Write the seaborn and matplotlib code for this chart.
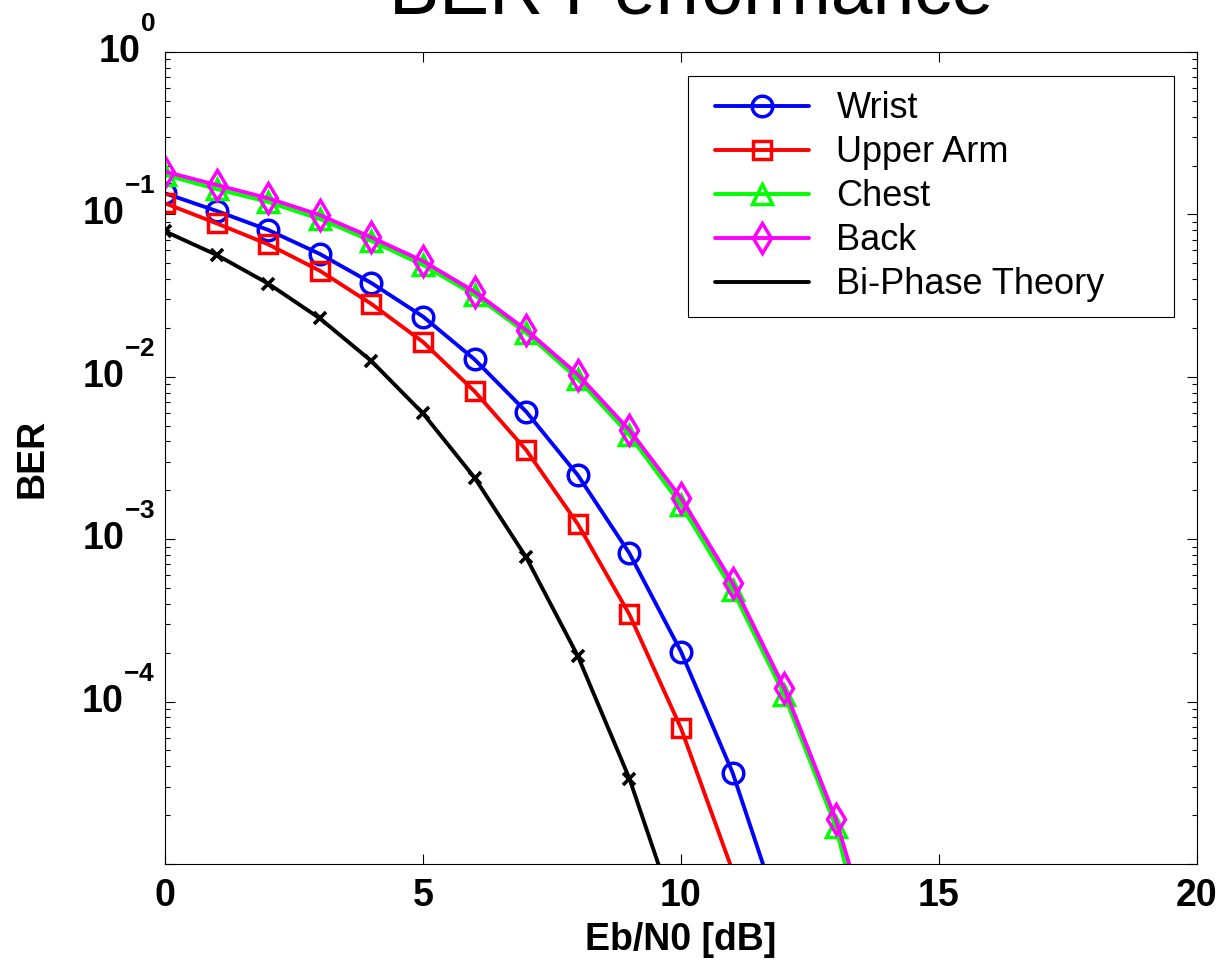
import numpy as np
import pandas as pd
import matplotlib
matplotlib.use("Agg")
import matplotlib.pyplot as plt
import matplotlib.transforms as mtransforms
from matplotlib.lines import Line2D
from matplotlib.legend_handler import HandlerLine2D
from matplotlib.ticker import FixedLocator, NullLocator, LogLocator, FuncFormatter
import seaborn as sns

try:
    import matplotlib._mathtext as _mt
    _mt.FontConstantsBase.sup1 = 1.45
except Exception:
    pass

# ---------------- data ----------------
wrist_x = [0, 1, 2, 3, 4, 5, 6, 7, 8, 9, 10, 11, 12]
wrist_ber = [0.1349, 0.1050, 0.0802, 0.0571, 0.0378, 0.0235, 0.01279,
             0.00610, 0.00248, 0.000819, 0.000203, 3.65e-5, 4.04e-6]

upper_x = [0, 1, 2, 3, 4, 5, 6, 7, 8, 9, 10, 11]
upper_ber = [0.1171, 0.0881, 0.0654, 0.0450, 0.0281, 0.01638, 0.00814,
             0.00354, 0.00124, 0.000344, 6.85e-5, 9.06e-6]

chest_x = [0, 1, 2, 3, 4, 5, 6, 7, 8, 9, 10, 11, 12, 13, 14]
chest_ber = [0.1749, 0.1433, 0.1192, 0.0937, 0.0686, 0.0488, 0.0319,
             0.01862, 0.00969, 0.00438, 0.001625, 0.000486, 0.0001098,
             1.69e-5, 9.3e-7]

back_x = [0, 1, 2, 3, 4, 5, 6, 7, 8, 9, 10, 11, 12, 13, 14]
back_ber = [0.1833, 0.1518, 0.1257, 0.0991, 0.0722, 0.0516, 0.0334,
            0.01942, 0.01033, 0.00470, 0.001794, 0.000537, 0.0001213,
            1.89e-5, 1.63e-6]

theory_x = [0, 1, 2, 3, 4, 5, 6, 7, 8, 9, 10]
theory_ber = [0.0786, 0.0563, 0.0375, 0.0229, 0.0125, 0.00595, 0.00239,
              0.000773, 0.000191, 3.36e-5, 3.87e-6]

x_ticks = [0, 5, 10, 15, 20]
y_ticks = [1e-5, 1e-4, 1e-3, 1e-2, 1e-1, 1e0]
y_tick_labels = ["", r"$\mathdefault{10^{-4}}$", r"$\mathdefault{10^{-3}}$",
                 r"$\mathdefault{10^{-2}}$", r"$\mathdefault{10^{-1}}$",
                 r"$\mathdefault{10^{0}}$"]
title = "BER Performance"
x_label = "Eb/N0 [dB]"
y_label = "BER"

# ---------------- style ----------------
sns.set_theme(style="ticks")
plt.rcParams["font.family"] = ["Liberation Sans", "DejaVu Sans"]
plt.rcParams["font.weight"] = "bold"
plt.rcParams["axes.edgecolor"] = "black"
plt.rcParams["axes.labelcolor"] = "black"
plt.rcParams["axes.linewidth"] = 0.8
plt.rcParams["xtick.color"] = "black"
plt.rcParams["ytick.color"] = "black"
plt.rcParams["xtick.labelcolor"] = "black"
plt.rcParams["ytick.labelcolor"] = "black"
plt.rcParams["text.color"] = "black"

fig = plt.figure(figsize=(12.23, 9.6), dpi=100)
W, H = 1223, 960
ax = fig.add_axes([165 / W, 1 - 864 / H, 1032 / W, 812 / H])
ax.set_yscale("log")
y_min, y_max = 1e-5, 1.0

measured = [
    ("Wrist", wrist_x, wrist_ber, "#0000ff", "o", 14.8),
    ("Upper Arm", upper_x, upper_ber, "#ff0000", "s", 13.3),
    ("Chest", chest_x, chest_ber, "#00ff00", "^", 15.0),
    ("Back", back_x, back_ber, "#ff00ff", "d", 15.0),
]

for name, xs, ys, col, mk, ms in measured:
    visible = [i for i, v in enumerate(ys) if v >= y_min]
    sns.lineplot(x=xs, y=ys, ax=ax, color=col, marker=mk, markersize=ms,
                 markerfacecolor="none", markeredgecolor=col,
                 markeredgewidth=2.5, linewidth=2.8, label=name,
                 markevery=visible, errorbar=None, sort=False)

sns.lineplot(x=theory_x, y=theory_ber, ax=ax, color="black", linewidth=2.8,
             label="Bi-Phase Theory", errorbar=None, sort=False)
t_vis = [i for i, v in enumerate(theory_ber) if v >= y_min]
sns.lineplot(x=theory_x, y=theory_ber, ax=ax, color="black", marker="x",
             markersize=9, markeredgecolor="black", markeredgewidth=2.6,
             linestyle="none", markevery=t_vis, errorbar=None, sort=False,
             legend=False)

ax.set_xlim(0, 20)
ax.set_ylim(y_min, y_max)
ax.xaxis.set_major_locator(FixedLocator(x_ticks))
ax.xaxis.set_minor_locator(NullLocator())
ax.yaxis.set_major_locator(FixedLocator(y_ticks))
ax.yaxis.set_major_formatter(FuncFormatter(
    lambda v, pos: y_tick_labels[int(round(np.log10(v))) + 5]))
ax.yaxis.set_minor_locator(LogLocator(base=10, subs=np.arange(2, 10), numticks=40))
ax.grid(False)
for s in ax.spines.values():
    s.set_visible(True)
    s.set_color("black")
    s.set_linewidth(0.8)

ax.tick_params(which="both", direction="in", top=True, right=True,
               width=0.8, color="black")
ax.tick_params(which="major", length=7.2)
ax.tick_params(which="minor", length=3.6)
ax.tick_params(axis="x", which="major", labelsize=27, pad=10)
ax.tick_params(axis="y", which="major", labelsize=27, pad=7)

ax.set_title(title, fontsize=54, fontweight="normal", pad=28, x=0.5097)
ax.set_xlabel(x_label, fontsize=27, fontweight="bold")
ax.xaxis.set_label_coords(0.5, -0.106)
ax.xaxis.label.set_va("baseline")
ax.set_ylabel(y_label, fontsize=27, fontweight="bold")
ax.yaxis.set_label_coords(-0.128, 0.5)
ax.yaxis.label.set_va("center")

leg = ax.legend(loc="upper left",
                bbox_to_anchor=(688 / W, 1 - 317 / H, 486 / W, 241 / H),
                bbox_transform=fig.transFigure, mode="expand", borderaxespad=0,
                prop={"size": 26, "weight": "normal"}, frameon=True,
                fancybox=False, edgecolor="black", framealpha=1,
                handlelength=2.93, handletextpad=0.76, borderpad=0.42,
                labelspacing=0.25,
                handler_map={Line2D: HandlerLine2D(xpad=0.33)})
leg.get_frame().set_linewidth(0.8)

fig.canvas.draw()
shift = mtransforms.ScaledTranslation(0, -11 / 100, fig.dpi_scale_trans)
for t in ax.yaxis.get_major_ticks():
    t.label1.set_va("baseline")
    t.label1.set_transform(t.label1.get_transform() + shift)

fig.savefig("out.png", dpi=100)
